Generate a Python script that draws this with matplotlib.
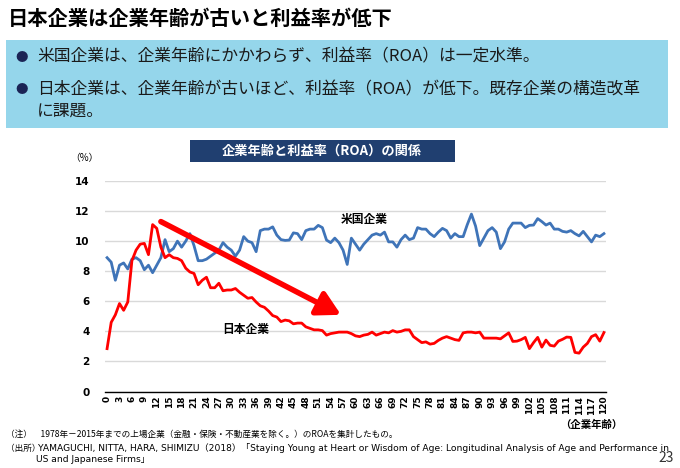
import numpy as np
import matplotlib
matplotlib.use("Agg")
import matplotlib.pyplot as plt
from matplotlib.patches import Rectangle

plt.rcParams['font.family'] = ['Noto Sans CJK JP', 'DejaVu Sans']

# company age (years)
ages = list(range(0, 121))

# ROA (%) of US firms by company age
roa_us = [
    8.9, 8.6, 7.4, 8.4, 8.55, 8.15, 8.8, 8.9, 8.7, 8.1,
    8.4, 7.9, 8.4, 8.9, 10.1, 9.3, 9.5, 10.0, 9.6, 10.0,
    10.5, 9.7, 8.7, 8.7, 8.8, 9.0, 9.2, 9.4, 9.9, 9.6,
    9.4, 9.0, 9.4, 10.3, 10.0, 9.9, 9.3, 10.7, 10.8, 10.8,
    10.95, 10.4, 10.1, 10.05, 10.07, 10.55, 10.5, 10.1, 10.7, 10.8,
    10.8, 11.05, 10.9, 10.07, 9.9, 10.2, 9.9, 9.4, 8.45, 10.2,
    9.8, 9.4, 9.8, 10.1, 10.4, 10.5, 10.4, 10.6, 9.95, 9.95,
    9.6, 10.1, 10.4, 10.1, 10.2, 10.9, 10.8, 10.8, 10.5, 10.3,
    10.6, 10.85, 10.7, 10.2, 10.5, 10.3, 10.3, 11.1, 11.8, 11.0,
    9.7, 10.2, 10.7, 10.9, 10.6, 9.5, 9.95, 10.8, 11.2, 11.2,
    11.2, 10.9, 11.05, 11.07, 11.5, 11.3, 11.07, 11.2, 10.8, 10.8,
    10.65, 10.6, 10.7, 10.5, 10.35, 10.65, 10.3, 9.95, 10.4, 10.3,
    10.5,
]

# ROA (%) of Japanese firms by company age
roa_jp = [
    2.85, 4.6, 5.1, 5.85, 5.4, 5.95, 8.7, 9.4, 9.8, 9.85,
    9.1, 11.1, 10.85, 9.6, 8.9, 9.1, 8.9, 8.85, 8.7, 8.2,
    7.95, 7.85, 7.1, 7.4, 7.6, 6.9, 6.9, 7.2, 6.7, 6.75,
    6.75, 6.85, 6.6, 6.4, 6.2, 6.25, 5.95, 5.7, 5.6, 5.35,
    5.05, 4.95, 4.65, 4.75, 4.7, 4.5, 4.55, 4.55, 4.3, 4.2,
    4.1, 4.1, 4.05, 3.75, 3.85, 3.9, 3.95, 3.95, 3.95, 3.85,
    3.7, 3.65, 3.75, 3.8, 3.95, 3.75, 3.85, 3.95, 3.9, 4.05,
    3.95, 4.0, 4.1, 4.1, 3.65, 3.45, 3.25, 3.3, 3.15, 3.2,
    3.4, 3.55, 3.65, 3.55, 3.45, 3.4, 3.9, 3.95, 3.95, 3.9,
    3.95, 3.55, 3.55, 3.55, 3.55, 3.5, 3.7, 3.9, 3.33, 3.35,
    3.45, 3.6, 2.85, 3.25, 3.6, 2.95, 3.42, 3.07, 3.02, 3.35,
    3.47, 3.62, 3.6, 2.6, 2.55, 2.95, 3.2, 3.65, 3.78, 3.35,
    3.92,
]

# trend arrow (start, end) in data units
arrow_start = (13, 11.3)
arrow_end = (56.5, 5.1)

W, H = 680, 468
fig = plt.figure(figsize=(W / 100, H / 100), dpi=100)


def fx(x):
    return x / W


def fy(y):
    return 1 - y / H


# page title
fig.text(fx(8), fy(18), "日本企業は企業年齢が古いと利益率が低下", fontsize=14.6,
         fontweight='bold', va='center', ha='left', color='black')

# light blue message box
fig.patches.append(Rectangle((fx(6), fy(128)), fx(662), 88 / H,
                             transform=fig.transFigure, facecolor='#95D6EB',
                             edgecolor='none', zorder=0))
bullet_col = '#1B2455'
body = dict(fontsize=12.1, color='#1a1a1a', va='center')
fig.text(fx(15), fy(57), "●", fontsize=9, color=bullet_col, va='center')
fig.text(fx(37), fy(57), "米国企業は、企業年齢にかかわらず、利益率（ROA）は一定水準。", **body)
fig.text(fx(15), fy(90), "●", fontsize=9, color=bullet_col, va='center')
fig.text(fx(37), fy(90), "日本企業は、企業年齢が古いほど、利益率（ROA）が低下。既存企業の構造改革", **body)
fig.text(fx(37), fy(111), "に課題。", **body)

# chart title box
fig.patches.append(Rectangle((fx(190), fy(162)), fx(265), 22 / H,
                             transform=fig.transFigure, facecolor='#203F70',
                             edgecolor='none', zorder=0))
fig.text(fx(322), fy(151), "企業年齢と利益率（ROA）の関係", fontsize=9.5,
         fontweight='bold', color='white', ha='center', va='center')

# main plot
ax = fig.add_axes([fx(105), fy(391.5), fx(501), (391.5 - 181) / H])
ax.plot(ages, roa_us, color='#3F74B8', lw=2.0, zorder=3)
ax.plot(ages, roa_jp, color='#FF0000', lw=2.0, zorder=3)

ax.annotate("", xy=arrow_end, xytext=arrow_start,
            arrowprops=dict(arrowstyle='-|>,head_length=1.0,head_width=0.55',
                            color='#FF0000', lw=4, mutation_scale=14,
                            shrinkA=0, shrinkB=0), zorder=4)

ax.text(62, 11.45, "米国企業", fontsize=8.5, fontweight='bold', ha='center', va='center')
ax.text(33.5, 4.15, "日本企業", fontsize=8.5, fontweight='bold', ha='center', va='center')

xt = list(range(0, 120, 3)) + [120]
ax.set_xlim(-0.5, 120.5)
ax.set_ylim(0, 14)
ax.set_yticks(range(0, 15, 2))
ax.set_xticks(xt)
ax.set_xticklabels([str(t) for t in xt], rotation=90, fontsize=6.5,
                   fontweight='bold', family='DejaVu Sans')
ax.set_yticklabels([str(t) for t in range(0, 15, 2)], fontsize=7.5,
                   fontweight='bold', family='DejaVu Sans')
ax.tick_params(length=0, pad=3)
ax.tick_params(axis='y', pad=11)
ax.grid(axis='y', color='#D9D9D9', lw=1)
ax.set_axisbelow(True)
for s in ['top', 'right', 'left']:
    ax.spines[s].set_visible(False)
ax.spines['bottom'].set_color('black')
ax.spines['bottom'].set_linewidth(1.0)

fig.text(fx(70), fy(158), "（%）", fontsize=7, va='center', ha='left')
fig.text(fx(622), fy(425), "（企業年齢）", fontsize=7.5, fontweight='bold',
         ha='right', va='center')

# notes
fig.text(fx(6), fy(434), "（注）　1978年－2015年までの上場企業（金融・保険・不動産業を除く。）のROAを集計したもの。",
         fontsize=6.2, va='center')
fig.text(fx(6), fy(448), "（出所）", fontsize=6.2, va='center')
fig.text(fx(38), fy(448), "YAMAGUCHI, NITTA, HARA, SHIMIZU（2018）「Staying Young at Heart or Wisdom of Age: Longitudinal Analysis of Age and Performance in",
         fontsize=6.6, va='center', family=['DejaVu Sans', 'Noto Sans CJK JP'])
fig.text(fx(36), fy(460), "US and Japanese Firms」", fontsize=6.6, va='center',
         family=['DejaVu Sans', 'Noto Sans CJK JP'])
fig.text(fx(674), fy(458), "23", fontsize=10, va='center', ha='right', color='#333333')

fig.savefig("out.png", dpi=100)
